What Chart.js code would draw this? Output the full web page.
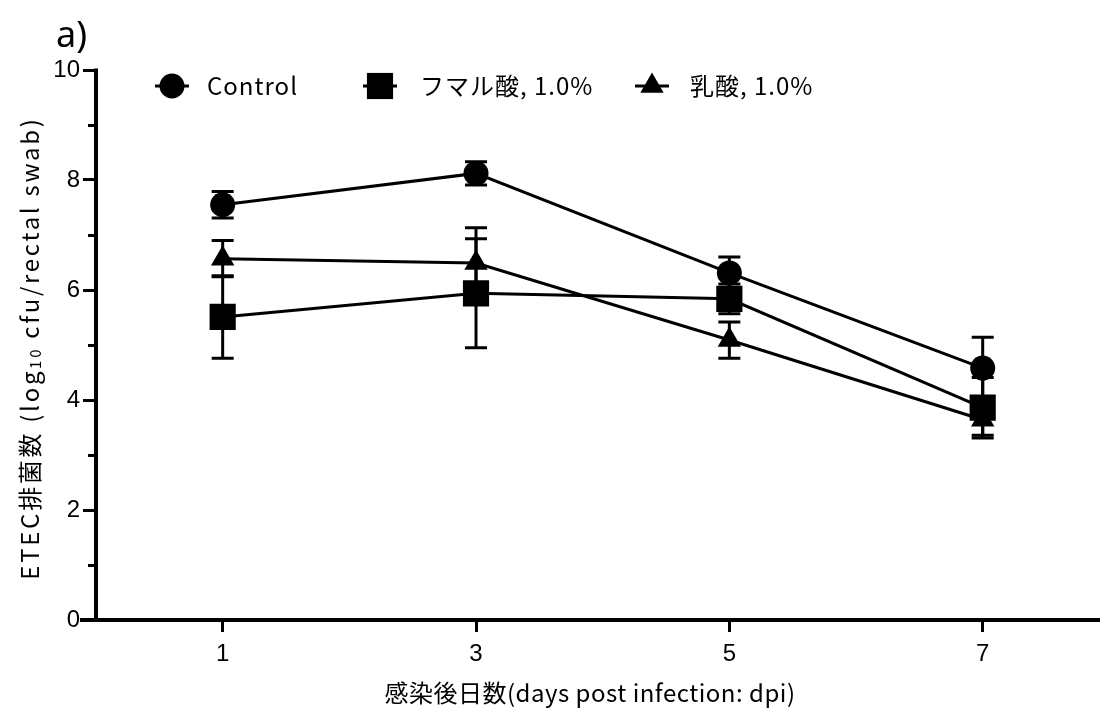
<!DOCTYPE html>
<html>
<head>
<meta charset="utf-8">
<script src="https://cdn.jsdelivr.net/npm/chart.js@4.4.1/dist/chart.umd.min.js"></script>
<style>
  html, body { margin: 0; padding: 0; background: #fff; }
  #wrap { width: 1100px; height: 720px; }
</style>
</head>
<body>
<div id="wrap"><canvas id="chart" width="1100" height="720"></canvas></div>
<script>
// days post infection
const days = [1, 3, 5, 7];
const seriesNames = ['Control', 'フマル酸, 1.0%', '乳酸, 1.0%'];
const control = [7.55, 8.12, 6.31, 4.58];
const controlErr = [0.24, 0.21, 0.29, 0.56];
const fumaric = [5.51, 5.94, 5.84, 3.86];
const fumaricErr = [0.75, 0.99, 0.27, 0.55];
const lactic = [6.57, 6.49, 5.09, 3.64];
const lacticErr = [0.33, 0.64, 0.33, 0.28];
const yTicks = [0, 2, 4, 6, 8, 10];
const yMinorTicks = [1, 3, 5, 7, 9];

const panelLabel = 'a)';
const xTitle = '感染後日数(days post infection: dpi)';
const yTitleParts = ['ETEC排菌数 (log', '10', ' cfu/rectal swab)'];

const FONT_JP = '"Noto Sans CJK JP", "Noto Sans", sans-serif';
const FONT_NUM = '"Liberation Sans", Arial, sans-serif';

const toPoints = vals => days.map((d, i) => ({ x: d, y: vals[i] }));

function series(label, vals, errs, style, radius) {
  return {
    label,
    data: toPoints(vals),
    errors: errs,
    borderColor: '#000',
    backgroundColor: '#000',
    borderWidth: 3,
    pointStyle: style,
    pointRadius: radius,
    pointBackgroundColor: '#000',
    pointBorderColor: '#000',
    pointBorderWidth: 0,
    tension: 0
  };
}

// axis lines + minor ticks (GraphPad style, x axis pokes out left, runs to the edge)
const axisLines = {
  id: 'axisLines',
  beforeDatasetsDraw(chart) {
    const { ctx, chartArea: a, scales: { y } } = chart;
    ctx.save();
    ctx.strokeStyle = '#000';
    ctx.lineWidth = 4;
    ctx.beginPath();
    ctx.moveTo(a.left, a.top - 1.5);
    ctx.lineTo(a.left, a.bottom);
    ctx.moveTo(a.left - 16, a.bottom);
    ctx.lineTo(chart.width, a.bottom);
    ctx.stroke();
    ctx.lineWidth = 3;
    ctx.beginPath();
    yMinorTicks.forEach(v => {
      const py = Math.round(y.getPixelForValue(v)) + 0.5;
      ctx.moveTo(a.left - 8, py);
      ctx.lineTo(a.left, py);
    });
    ctx.stroke();
    ctx.restore();
  }
};

const errorBars = {
  id: 'errorBars',
  beforeDatasetsDraw(chart) {
    const { ctx, scales: { y } } = chart;
    ctx.save();
    ctx.strokeStyle = '#000';
    ctx.lineWidth = 3;
    chart.data.datasets.forEach((ds, di) => {
      const meta = chart.getDatasetMeta(di);
      ds.errors.forEach((e, i) => {
        const pt = meta.data[i];
        const top = y.getPixelForValue(ds.data[i].y + e);
        const bot = y.getPixelForValue(ds.data[i].y - e);
        ctx.beginPath();
        ctx.moveTo(pt.x, top);
        ctx.lineTo(pt.x, bot);
        ctx.moveTo(pt.x - 11, top);
        ctx.lineTo(pt.x + 11, top);
        ctx.moveTo(pt.x - 11, bot);
        ctx.lineTo(pt.x + 11, bot);
        ctx.stroke();
      });
    });
    ctx.restore();
  }
};

// legend inside plot, panel label, axis titles
const decorations = {
  id: 'decorations',
  afterDraw(chart) {
    const { ctx } = chart;
    ctx.save();
    ctx.fillStyle = '#000';
    ctx.strokeStyle = '#000';

    ctx.font = '36px "Noto Sans", sans-serif';
    ctx.textBaseline = 'alphabetic';
    ctx.fillText(panelLabel, 56, 47);

    const legendX = [172, 380, 652];
    const textX = [207, 420, 690];
    const cy = 86;
    chart.data.datasets.forEach((ds, i) => {
      ctx.lineWidth = 3;
      ctx.beginPath();
      ctx.moveTo(legendX[i] - 17, cy);
      ctx.lineTo(legendX[i] + 17, cy);
      ctx.stroke();
      Chart.helpers.drawPoint(ctx, { pointStyle: ds.pointStyle, radius: ds.pointRadius, borderWidth: 0, rotation: 0 }, legendX[i], cy);
      ctx.font = '24px ' + FONT_JP;
      ctx.letterSpacing = '1px';
      ctx.textBaseline = 'middle';
      ctx.fillText(ds.label, textX[i], cy);
      ctx.letterSpacing = '0px';
    });

    // x title
    ctx.font = '24px ' + FONT_JP;
    ctx.letterSpacing = '0.5px';
    ctx.textAlign = 'center';
    ctx.textBaseline = 'middle';
    ctx.fillText(xTitle, 590, 693);
    ctx.textAlign = 'left';

    // y title with subscript
    ctx.translate(30, 348);
    ctx.rotate(-Math.PI / 2);
    ctx.letterSpacing = '2.7px';
    const fonts = ['24px ' + FONT_JP, '15px ' + FONT_JP, '24px ' + FONT_JP];
    const offs = [0, 5, 0];
    let total = 0;
    const widths = yTitleParts.map((t, i) => { ctx.font = fonts[i]; const w = ctx.measureText(t).width; total += w; return w; });
    let x = -total / 2;
    yTitleParts.forEach((t, i) => {
      ctx.font = fonts[i];
      ctx.fillText(t, x, offs[i]);
      x += widths[i];
    });
    ctx.restore();
  }
};

new Chart(document.getElementById('chart'), {
  type: 'line',
  data: {
    datasets: [
      series(seriesNames[0], control, controlErr, 'circle', 12.5),
      series(seriesNames[1], fumaric, fumaricErr, 'rect', 18.5),
      series(seriesNames[2], lactic, lacticErr, 'triangle', 13.5)
    ]
  },
  options: {
    responsive: false,
    animation: false,
    events: [],
    devicePixelRatio: 1,
    layout: { padding: { top: 70, right: 0, left: 0, bottom: 0 } },
    plugins: {
      legend: { display: false },
      tooltip: { enabled: false },
      colors: { enabled: false }
    },
    scales: {
      x: {
        type: 'linear',
        min: 0,
        max: 7.78,
        afterBuildTicks: s => { s.ticks = days.map(v => ({ value: v })); },
        afterFit: s => { s.height = 100; },
        grid: { drawOnChartArea: false, drawTicks: true, tickLength: 12, tickWidth: 3, tickColor: '#000' },
        border: { display: false },
        ticks: { font: { family: FONT_NUM, size: 24 }, color: '#000', padding: 8, maxRotation: 0, autoSkip: false }
      },
      y: {
        min: 0,
        max: 10,
        afterBuildTicks: s => { s.ticks = yTicks.map(v => ({ value: v })); },
        afterFit: s => { s.width = 96; },
        grid: { drawOnChartArea: false, drawTicks: true, tickLength: 13, tickWidth: 3, tickColor: '#000' },
        border: { display: false },
        ticks: { font: { family: FONT_NUM, size: 24 }, color: '#000', padding: 3 }
      }
    }
  },
  plugins: [axisLines, errorBars, decorations]
});
</script>
</body>
</html>
